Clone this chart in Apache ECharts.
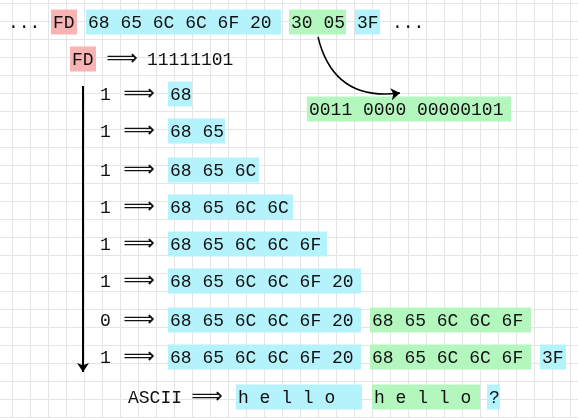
<!DOCTYPE html>
<html><head><meta charset="utf-8">
<script src="https://cdn.jsdelivr.net/npm/echarts@6/dist/echarts.min.js"></script>
<style>html,body{margin:0;padding:0;background:#fff}#c{width:578px;height:418px}</style>
</head><body><div id="c"></div>
<script>
// Diagram items: [x0, x1, yCenter, text, colourKey]
const topRow = [
  [6, 42, 22, '...', 'none'],
  [51, 77, 22, 'FD', 'pink'],
  [86, 281, 22, '68 65 6C 6C 6F 20', 'cyan'],
  [289, 346, 22, '30 05', 'green'],
  [355, 380, 22, '3F', 'cyan'],
  [390, 430, 22, '...', 'none']
];
const fdRow = [
  [70, 96, 59, 'FD', 'pink'],
  [145, 245, 59, '11111101', 'none']
];
const decoded = [[307, 511, 109, '0011 0000 00000101', 'green']];
const rowY = [94, 131, 170, 207, 244, 281, 320, 357];
const bits = ['1', '1', '1', '1', '1', '1', '0', '1'];
const cyanText = ['68', '68 65', '68 65 6C', '68 65 6C 6C', '68 65 6C 6C 6F', '68 65 6C 6C 6F 20', '68 65 6C 6C 6F 20', '68 65 6C 6C 6F 20'];
const cyanEnd = [192, 225, 259, 293, 327, 361, 361, 361];
const extra = [
  [370, 531, 320, '68 65 6C 6C 6F', 'green'],
  [370, 531, 357, '68 65 6C 6C 6F', 'green'],
  [540, 566, 357, '3F', 'cyan']
];
const asciiRow = [
  [126, 180, 397, 'ASCII', 'none'],
  [236, 362, 397, 'h e l l o', 'cyan'],
  [372, 480, 397, 'h e l l o', 'green'],
  [487, 500, 397, '?', 'cyan']
];
const colours = {pink: '#f8b4b4', cyan: '#b4f2fc', green: '#b4f7be', none: 'rgba(0,0,0,0)'};

const items = [].concat(topRow, fdRow, decoded, extra, asciiRow);
rowY.forEach((y, i) => {
  items.push([98, 112, y, bits[i], 'none']);
  items.push([168, cyanEnd[i], y, cyanText[i], 'cyan']);
});
const arrowRows = [[122, 59]].concat(rowY.map(y => [139, y]), [[207, 397]]);

const OX = 5.7, OY = 14.7;
const px = v => v + OX, py = v => v + OY;

const chart = echarts.init(document.getElementById('c'));
chart.setOption({
  animation: false,
  grid: {left: -OX, top: -OY, width: 600, height: 450, containLabel: false, outerBoundsMode: 'none'},
  xAxis: {type: 'value', min: 0, max: 600, interval: 18, axisLine: {show: false}, axisTick: {show: false}, axisLabel: {show: false}, splitLine: {lineStyle: {color: '#e4e4e4', width: 1}}},
  yAxis: {type: 'value', min: 0, max: 450, interval: 18, inverse: true, axisLine: {show: false}, axisTick: {show: false}, axisLabel: {show: false}, splitLine: {lineStyle: {color: '#e4e4e4', width: 1}}},
  series: [
    {
      type: 'custom', coordinateSystem: 'cartesian2d',
      data: items.map(d => [px(d[0]), px(d[1]), py(d[2]), d[3], d[4]]),
      renderItem: (params, api) => {
        const d = items[params.dataIndex];
        const a = api.coord([px(d[0]), py(d[2]) - 12.5]);
        const b = api.coord([px(d[1]), py(d[2]) + 12.5]);
        return {type: 'group', children: [
          {type: 'rect', shape: {x: a[0], y: a[1], width: b[0] - a[0], height: b[1] - a[1]}, style: {fill: colours[d[4]]}},
          {type: 'text', style: {text: d[3], x: a[0] + 2, y: (a[1] + b[1]) / 2 + 1, align: 'left', verticalAlign: 'middle', font: '18px "Liberation Mono", monospace', fill: '#111'}}
        ]};
      }
    },
    {
      type: 'custom', coordinateSystem: 'cartesian2d',
      data: arrowRows.map(d => [px(d[0]), py(d[1])]),
      renderItem: (params, api) => {
        const d = arrowRows[params.dataIndex];
        const p = api.coord([px(d[0]), py(d[1])]);
        return {type: 'text', style: {text: '⟹', x: p[0], y: p[1], align: 'center', verticalAlign: 'middle', font: '22px "DejaVu Sans"', fill: '#111'}};
      }
    },
    {
      type: 'lines', coordinateSystem: 'cartesian2d', symbol: ['none', 'arrow'], symbolSize: 9,
      lineStyle: {color: '#000', width: 2, opacity: 1},
      data: [
        {coords: [[px(83), py(86)], [px(83), py(372)]], lineStyle: {curveness: 0}},
        {coords: [[px(318), py(37)], [px(400), py(93)]], lineStyle: {curveness: -0.45, width: 1.5}}
      ]
    }
  ]
});
</script></body></html>
